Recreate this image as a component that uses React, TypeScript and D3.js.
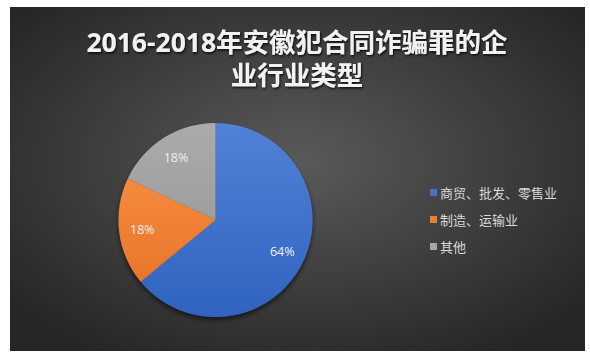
import React from "react";
import * as d3 from "d3";

const categories = ["商贸、批发、零售业", "制造、运输业", "其他"];
const values = [64, 18, 18];
const colors = ["#4472C4", "#ED7D31", "#A5A5A5"];
const titleLines = ["2016-2018年安徽犯合同诈骗罪的企", "业行业类型"];

const W = 590;
const H = 358;

export default function App() {
  const cx = 215.5;
  const cy = 220;
  const r = 97;
  const pie = d3.pie<number>().sort(null).value((d) => d);
  const arcs = pie(values);
  const arc = d3.arc<d3.PieArcDatum<number>>().innerRadius(0).outerRadius(r);
  const labelArc = d3.arc<d3.PieArcDatum<number>>().innerRadius(r * 0.76).outerRadius(r * 0.76);
  const total = d3.sum(values);
  const font = "'Open Sans','Noto Sans CJK SC',sans-serif";
  const legendY = d3.scalePoint<string>().domain(categories).range([193, 247]);

  return (
    <svg width={W} height={H} style={{ position: "absolute", left: 0, top: 0 }}>
      <defs>
        <radialGradient id="bg" cx="50%" cy="45%" r="65%">
          <stop offset="0%" stopColor="#5a5a5a" />
          <stop offset="100%" stopColor="#262626" />
        </radialGradient>
        <linearGradient id="g0" x1="0" y1="0" x2="0" y2="1">
          <stop offset="0%" stopColor="#5282d6" />
          <stop offset="100%" stopColor="#2f63c0" />
        </linearGradient>
        <linearGradient id="g1" x1="0" y1="0" x2="0" y2="1">
          <stop offset="0%" stopColor="#f58a3d" />
          <stop offset="100%" stopColor="#e8762a" />
        </linearGradient>
        <linearGradient id="g2" x1="0" y1="0" x2="0" y2="1">
          <stop offset="0%" stopColor="#ababab" />
          <stop offset="100%" stopColor="#9e9e9e" />
        </linearGradient>
        <filter id="pieShadow" x="-20%" y="-20%" width="140%" height="140%">
          <feDropShadow dx="0" dy="3" stdDeviation="2.5" floodColor="#000" floodOpacity="0.6" />
        </filter>
        <filter id="txtShadow" x="-10%" y="-30%" width="120%" height="160%">
          <feDropShadow dx="1" dy="1.5" stdDeviation="1" floodColor="#000" floodOpacity="0.8" />
        </filter>
      </defs>
      <rect x={0} y={0} width={W} height={H} fill="#ffffff" />
      <rect x={10} y={7} width={575} height={344} fill="url(#bg)" />
      <g filter="url(#txtShadow)">
        {titleLines.map((t, i) => (
          <text
            key={i}
            x={297}
            y={52 + i * 33}
            textAnchor="middle"
            fill="#f2f2f2"
            fontFamily={font}
            fontWeight="bold"
            fontSize={26.5}
          >
            {t}
          </text>
        ))}
      </g>
      <g transform={`translate(${cx},${cy})`} filter="url(#pieShadow)">
        {arcs.map((a, i) => (
          <path key={i} d={arc(a) || ""} fill={`url(#g${i})`} />
        ))}
      </g>
      <g transform={`translate(${cx},${cy})`}>
        {arcs.map((a, i) => {
          const [lx, ly] = labelArc.centroid(a);
          return (
            <text
              key={i}
              x={lx}
              y={ly}
              dy="0.35em"
              textAnchor="middle"
              fill="#f0f0f0"
              fontFamily={font}
              fontSize={12.5}
            >
              {`${Math.round((values[i] / total) * 100)}%`}
            </text>
          );
        })}
      </g>
      {categories.map((c, i) => (
        <g key={c} transform={`translate(430,${legendY(c)})`}>
          <rect x={0} y={-4} width={7} height={7} fill={colors[i]} />
          <text x={10} y={0} dy="0.35em" fill="#d9d9d9" fontFamily={font} fontSize={13}>
            {c}
          </text>
        </g>
      ))}
    </svg>
  );
}
